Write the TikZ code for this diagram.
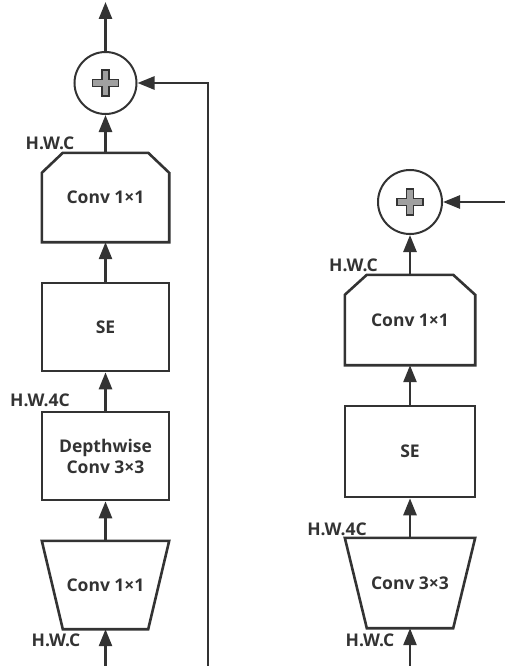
\documentclass[tikz,border=0pt]{standalone}
\usepackage{fontspec}
\setmainfont{Open Sans}
\usetikzlibrary{arrows.meta,calc}
\definecolor{ink}{HTML}{333333}
\definecolor{plusgray}{HTML}{A0A0A0}
\tikzset{
  ln/.style={draw=ink, line width=2.6pt},
  arr/.style={ln, -{Triangle[length=17pt,width=13pt]}},
  blk/.style={inner sep=0pt, align=center, text=ink, font=\bfseries\fontsize{17.5}{21}\selectfont},
  lab/.style={inner sep=0pt, anchor=base, text=ink, font=\bfseries\fontsize{17.5}{21}\selectfont},
  addc/.style={circle, draw=ink, line width=2pt, inner sep=0pt},
}
\newcommand{\plussign}[1]{%
  \draw[draw=ink, fill=plusgray, line width=1.4pt]
    ($(#1)+(-3.5,-13)$) -- ($(#1)+(3.5,-13)$) -- ($(#1)+(3.5,-3.5)$) -- ($(#1)+(13,-3.5)$)
    -- ($(#1)+(13,3.5)$) -- ($(#1)+(3.5,3.5)$) -- ($(#1)+(3.5,13)$) -- ($(#1)+(-3.5,13)$)
    -- ($(#1)+(-3.5,3.5)$) -- ($(#1)+(-13,3.5)$) -- ($(#1)+(-13,-3.5)$) -- ($(#1)+(-3.5,-3.5)$) -- cycle;}
\begin{document}
\begin{tikzpicture}[x=1pt,y=-1pt]
\useasboundingbox (0,0) rectangle (505,666);
% ---------- left block ----------
\node[addc, minimum size=62pt] (addL) at (105.5,83) {};
\plussign{addL}
\node[blk, minimum width=127pt, minimum height=89pt] (c1L) at (105.5,197.5) {Conv 1×1};
\draw[ln] ($(c1L.north west)+(21,0)$) -- ($(c1L.north east)+(-21,0)$) -- ($(c1L.north east)+(0,20)$)
  -- (c1L.south east) -- (c1L.south west) -- ($(c1L.north west)+(0,20)$) -- cycle;
\node[blk, draw=ink, line width=2.6pt, minimum width=127pt, minimum height=88pt] (seL) at (105.5,327) {SE};
\node[blk, draw=ink, line width=2.6pt, minimum width=127pt, minimum height=88pt] (dwL) at (105.5,456) {Depthwise\\Conv 3×3};
\node[blk, minimum width=127pt, minimum height=88pt] (trL) at (105.5,585) {Conv 1×1};
\draw[ln] (trL.north west) -- (trL.north east) -- ($(trL.south east)+(-21,0)$) -- ($(trL.south west)+(21,0)$) -- cycle;
\coordinate (inL) at (105.5,666);
\coordinate (outL) at (105.5,2);
\coordinate (skipL) at (208,666);
\draw[arr] (inL) -- (trL.south);
\draw[arr] (trL.north) -- (dwL.south);
\draw[arr] (dwL.north) -- (seL.south);
\draw[arr] (seL.north) -- (c1L.south);
\draw[arr] (c1L.north) -- (addL.south);
\draw[arr] (addL.north) -- (outL);
\draw[arr] (skipL) |- (addL.east);
\node[lab] (lL1) at (50,149.5) {H.W.C};
\node[lab] (lL2) at (40,406.5) {H.W.4C};
\node[lab] (lL3) at (56,646.5) {H.W.C};
% ---------- right block ----------
\node[addc, minimum size=64pt] (addR) at (410,202) {};
\plussign{addR}
\node[blk, minimum width=130pt, minimum height=90pt] (c1R) at (410,320) {Conv 1×1};
\draw[ln] ($(c1R.north west)+(22,0)$) -- ($(c1R.north east)+(-22,0)$) -- ($(c1R.north east)+(0,20)$)
  -- (c1R.south east) -- (c1R.south west) -- ($(c1R.north west)+(0,20)$) -- cycle;
\node[blk, draw=ink, line width=2.6pt, minimum width=130pt, minimum height=91pt] (seR) at (410,451.5) {SE};
\node[blk, minimum width=130pt, minimum height=90pt] (trR) at (410,583) {Conv 3×3};
\draw[ln] (trR.north west) -- (trR.north east) -- ($(trR.south east)+(-22,0)$) -- ($(trR.south west)+(22,0)$) -- cycle;
\coordinate (inR) at (410,666);
\coordinate (skipR) at (505,202);
\draw[arr] (inR) -- (trR.south);
\draw[arr] (trR.north) -- (seR.south);
\draw[arr] (seR.north) -- (c1R.south);
\draw[arr] (c1R.north) -- (addR.south);
\draw[arr] (skipR) -- (addR.east);
\node[lab] (lR1) at (353.5,271.5) {H.W.C};
\node[lab] (lR2) at (337,535.5) {H.W.4C};
\node[lab] (lR3) at (370,646.5) {H.W.C};
\end{tikzpicture}
\end{document}
